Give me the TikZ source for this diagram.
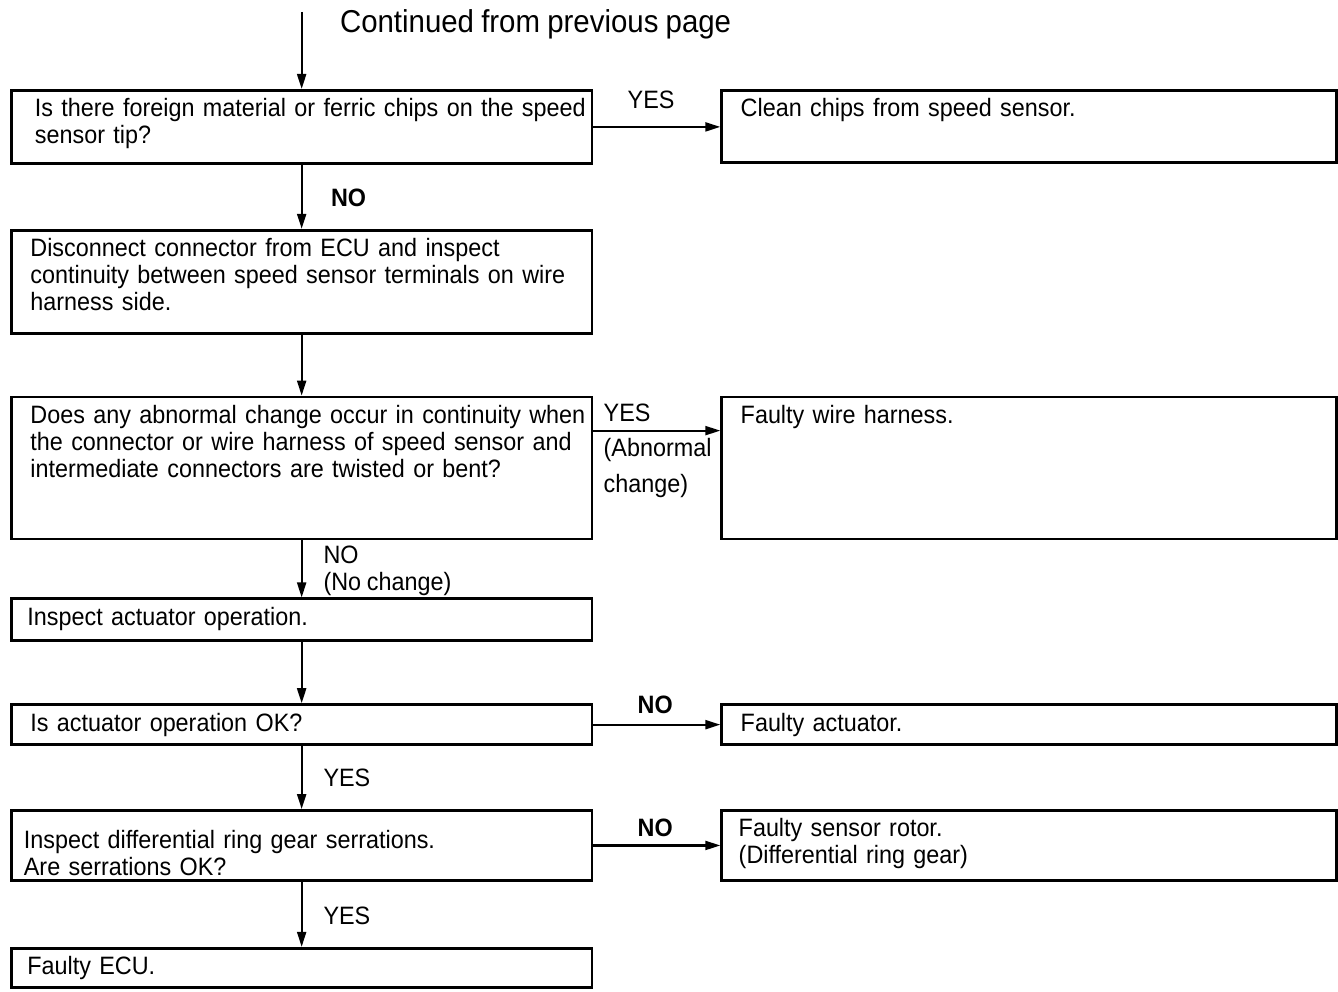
\documentclass[tikz,border=0pt]{standalone}
\usepackage{fontspec}
\setmainfont{Liberation Sans}[FakeStretch=0.93, WordSpace=0.88]
\usetikzlibrary{arrows.meta, positioning}

\newcommand{\boxfont}{\fontsize{14.3}{15.35}\selectfont}
\newcommand{\boxlines}[2][0pt]{\begin{tabular}[t]{@{\hspace{#1}}l@{}}#2\end{tabular}}

\begin{document}
\begin{tikzpicture}[
    qbox/.style={draw, line width=1.6pt, anchor=north west, inner xsep=0.38cm, inner ysep=0.15cm,
        text width=10.85cm, text height=0.38cm, align=left, font=\boxfont},
    abox/.style={qbox, text width=11.53cm},
    lbl/.style={inner sep=0pt, anchor=west, font=\boxfont},
    arrow/.style={-{Triangle[length=0.3cm, width=0.18cm]}, line width=1.2pt}
]
\useasboundingbox (0,0) rectangle (26.76,-19.84);

% left column
\node[qbox, text depth=0.78cm] (q1) at (0.2,-1.78) {\boxlines[0.09cm]{Is there foreign material or ferric chips on the speed\\sensor tip?}};
\node[qbox, text depth=1.38cm, below=1.28cm of q1] (q2) {\boxlines{Disconnect connector from ECU and inspect\\continuity between speed sensor terminals on wire\\harness side.}};
\node[qbox, text depth=2.16cm, below=1.22cm of q2] (q3) {\boxlines{Does any abnormal change occur in continuity when\\the connector or wire harness of speed sensor and\\intermediate connectors are twisted or bent?}};
\node[qbox, text depth=0.16cm, below=1.14cm of q3] (q4) {\boxlines[-0.06cm]{Inspect actuator operation.}};
\node[qbox, text depth=0.12cm, below=1.22cm of q4] (q5) {\boxlines{Is actuator operation OK?}};
\node[qbox, text height=0.62cm, text depth=0.48cm, below=1.26cm of q5] (q6) {\boxlines[-0.13cm]{Inspect differential ring gear serrations.\\Are serrations OK?}};
\node[qbox, text depth=0.10cm, below=1.30cm of q6] (q7) {\boxlines[-0.06cm]{Faulty ECU.}};

% right column
\node[abox, text depth=0.76cm, right=2.54cm of q1.north east, anchor=north west] (a1) {\boxlines{Clean chips from speed sensor.}};
\node[abox, text depth=2.16cm, right=2.54cm of q3.north east, anchor=north west] (a2) {\boxlines{Faulty wire harness.}};
\node[abox, text depth=0.12cm, right=2.54cm of q5.north east, anchor=north west] (a3) {\boxlines{Faulty actuator.}};
\node[abox, text depth=0.72cm, right=2.54cm of q6.north east, anchor=north west] (a4) {\boxlines[-0.04cm]{Faulty sensor rotor.\\(Differential ring gear)}};

% entry
\coordinate[above=1.54cm of q1] (start);
\node[lbl, font=\fontsize{18}{20}\selectfont, right=0.76cm of start, yshift=-0.25cm] (cont) {Continued from previous page};

% labels
\node[lbl] (yes1) at ([xshift=0.68cm, yshift=0.54cm]q1.east) {YES};
\node[lbl, font=\boxfont\bfseries] (no1) at ([xshift=0.58cm, yshift=-0.66cm]q1.south) {NO};
\node[lbl, anchor=north west, align=left, font=\fontsize{14.3}{20.2}\selectfont] (yes2) at ([xshift=0.2cm, yshift=-0.15cm]q3.north east) {YES\\(Abnormal\\change)};
\node[lbl, anchor=north west, align=left] (no2) at ([xshift=0.43cm, yshift=-0.11cm]q3.south) {NO\\(No change)};
\node[lbl, font=\boxfont\bfseries] (no3) at ([xshift=0.88cm, yshift=0.39cm]q5.east) {NO};
\node[lbl] (yes3) at ([xshift=0.43cm, yshift=-0.64cm]q5.south) {YES};
\node[lbl, font=\boxfont\bfseries] (no4) at ([xshift=0.88cm, yshift=0.35cm]q6.east) {NO};
\node[lbl] (yes4) at ([xshift=0.43cm, yshift=-0.68cm]q6.south) {YES};

% connectors
\coordinate (q3out) at ([yshift=-0.7cm]q3.north east);
\draw[arrow] (start) -- (q1.north);
\draw[arrow] (q1.south) -- (q2.north);
\draw[arrow] (q2.south) -- (q3.north);
\draw[arrow] (q3.south) -- (q4.north);
\draw[arrow] (q4.south) -- (q5.north);
\draw[arrow] (q5.south) -- (q6.north);
\draw[arrow] (q6.south) -- (q7.north);
\draw[arrow] (q1.east) -- (q1.east -| a1.west);
\draw[arrow] (q3out) -- (q3out -| a2.west);
\draw[arrow] (q5.east) -- (q5.east -| a3.west);
\draw[arrow] (q6.east) -- (q6.east -| a4.west);

\end{tikzpicture}
\end{document}
